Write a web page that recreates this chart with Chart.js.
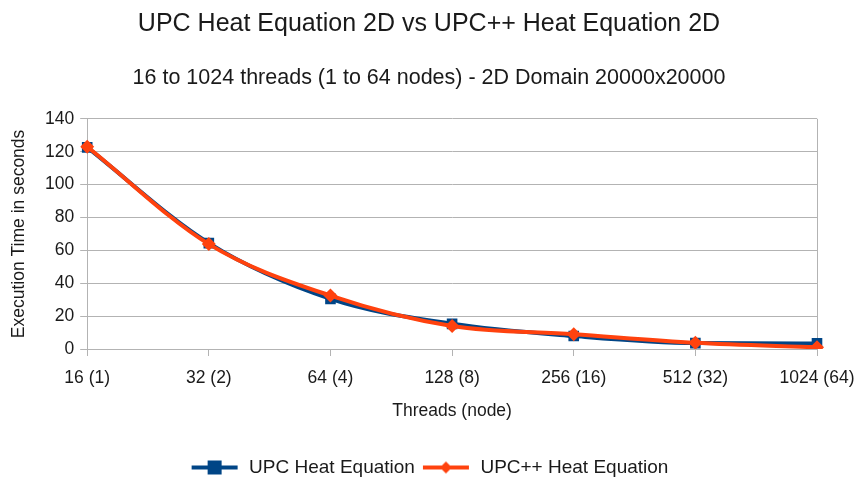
<!DOCTYPE html>
<html>
<head>
<meta charset="utf-8">
<script src="https://cdn.jsdelivr.net/npm/chart.js@4.4.1/dist/chart.umd.min.js"></script>
<style>
  html, body { margin: 0; padding: 0; background: #ffffff; }
  #wrap { width: 858px; height: 477px; }
</style>
</head>
<body>
<div id="wrap"><canvas id="heatChart" width="858" height="477"></canvas></div>
<script>
// --- données ---
const threadLabels = ['16 (1)', '32 (2)', '64 (4)', '128 (8)', '256 (16)', '512 (32)', '1024 (64)'];
const upcTimes = [122.6, 64.4, 30.5, 15.3, 7.9, 3.6, 3.4];
const upcppTimes = [123, 63.8, 32.5, 14, 9, 3.8, 1];
const yTicks = [0, 20, 40, 60, 80, 100, 120, 140];

const bleu = '#004586';
const orange = '#ff420e';
const police = "'Liberation Sans', Arial, sans-serif";
const texte = '#1a1a1a';

// petite image pour la légende (ligne + marqueur)
function iconeLegende(couleur, forme) {
    const c = document.createElement('canvas');
    c.width = 50; c.height = 16;
    const g = c.getContext('2d');
    g.strokeStyle = couleur;
    g.lineWidth = 4;
    g.beginPath(); g.moveTo(2, 8); g.lineTo(48, 8); g.stroke();
    g.fillStyle = couleur;
    if (forme === 'carre') {
        g.fillRect(18, 1, 14, 14);
    } else {
        g.beginPath();
        g.moveTo(25, 2); g.lineTo(31, 8); g.lineTo(25, 14); g.lineTo(19, 8);
        g.closePath(); g.fill();
    }
    return c;
}

// bordure droite du cadre de tracé
const cadre = {
    id: 'cadre',
    beforeDatasetsDraw(chart) {
        const a = chart.chartArea, ctx = chart.ctx;
        ctx.save();
        ctx.strokeStyle = '#b3b3b3';
        ctx.lineWidth = 1;
        ctx.beginPath();
        ctx.moveTo(Math.round(a.right) + 0.5, a.top);
        ctx.lineTo(Math.round(a.right) + 0.5, a.bottom);
        ctx.stroke();
        ctx.restore();
    }
};

const ctx = document.getElementById('heatChart').getContext('2d');
new Chart(ctx, {
    type: 'line',
    data: {
        labels: threadLabels,
        datasets: [{
            label: 'UPC Heat Equation',
            data: upcTimes,
            borderColor: bleu,
            backgroundColor: bleu,
            borderWidth: 4,
            pointStyle: 'rect',
            pointRadius: 7.5,
            pointBorderWidth: 0,
            tension: 0.4,
            cubicInterpolationMode: 'monotone',
            order: 1
        }, {
            label: 'UPC++ Heat Equation',
            data: upcppTimes,
            borderColor: orange,
            backgroundColor: orange,
            borderWidth: 4,
            pointStyle: 'rectRot',
            pointRadius: 7,
            pointBorderWidth: 0,
            tension: 0.4,
            cubicInterpolationMode: 'monotone',
            order: 0
        }]
    },
    options: {
        responsive: false,
        animation: false,
        layout: { padding: { left: 0, right: 0, top: 0, bottom: -10 } },
        scales: {
            x: {
                offset: false,
                afterFit: (axe) => { axe.paddingRight = 41; },
                grid: { display: true, drawOnChartArea: false, color: '#b3b3b3', tickLength: 7 },
                border: { color: '#b3b3b3' },
                ticks: { color: texte, font: { family: police, size: 17.5 }, maxRotation: 0, padding: 12 },
                title: { display: true, text: 'Threads (node)', color: texte, font: { family: police, size: 17.5 }, padding: { top: 0, bottom: 30 } }
            },
            y: {
                min: 0,
                max: 140,
                afterBuildTicks: (axe) => { axe.ticks = yTicks.map(v => ({ value: v })); },
                grid: { color: '#b3b3b3', tickLength: 7 },
                border: { color: '#b3b3b3' },
                ticks: { color: texte, font: { family: police, size: 17.5 }, padding: 6 },
                title: { display: true, text: 'Execution Time in seconds', color: texte, font: { family: police, size: 17.5 }, padding: { top: 9, bottom: 9 } }
            }
        },
        plugins: {
            title: {
                display: true,
                text: 'UPC Heat Equation 2D vs UPC++ Heat Equation 2D',
                color: texte,
                font: { family: police, size: 25, weight: 'normal' },
                padding: { top: 9, bottom: 26 }
            },
            subtitle: {
                display: true,
                text: '16 to 1024 threads (1 to 64 nodes) - 2D Domain 20000x20000',
                color: texte,
                font: { family: police, size: 21.5, weight: 'normal' },
                padding: { top: 0, bottom: 28 }
            },
            legend: {
                position: 'bottom',
                labels: {
                    color: texte,
                    font: { family: police, size: 19 },
                    usePointStyle: true,
                    pointStyleWidth: 50,
                    padding: 6,
                    generateLabels: (chart) => [
                        { text: 'UPC Heat Equation', pointStyle: iconeLegende(bleu, 'carre'), datasetIndex: 0, fontColor: texte, lineWidth: 0, strokeStyle: bleu, fillStyle: bleu },
                        { text: 'UPC++ Heat Equation', pointStyle: iconeLegende(orange, 'losange'), datasetIndex: 1, fontColor: texte, lineWidth: 0, strokeStyle: orange, fillStyle: orange }
                    ]
                }
            },
            tooltip: { enabled: false }
        }
    },
    plugins: [cadre]
});
</script>
</body>
</html>
